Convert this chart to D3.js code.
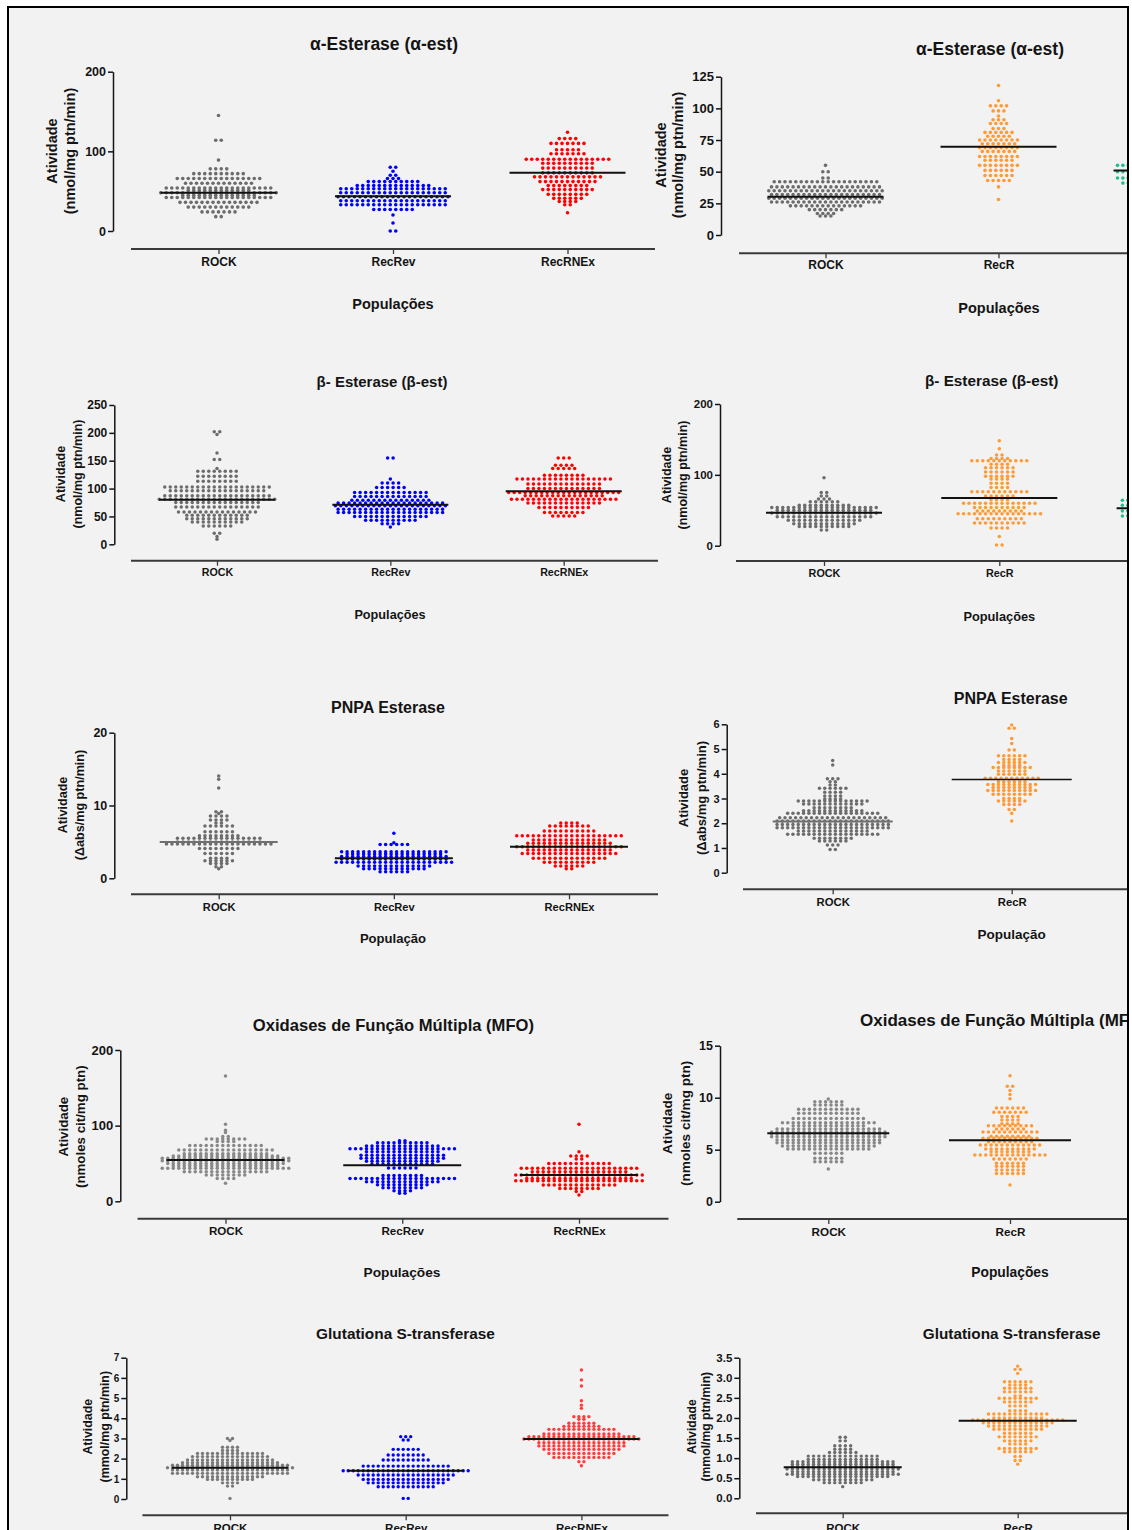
<!DOCTYPE html>
<html><head><meta charset="utf-8">
<script src="https://cdn.jsdelivr.net/npm/d3@7"></script>
<style>
body{margin:0;background:#fff}
svg{display:block}
text{font-family:"Liberation Sans",Arial,sans-serif;font-weight:bold;fill:#141414}
</style>
</head><body>
<svg id="chart" width="1132" height="1530"></svg>
<script>
// ---------------- DATA (rows of dots: [value, number of dots in the row]) ----------------
const catsLeft  = ["ROCK", "RecRev", "RecRNEx"];
const catsRight = ["ROCK", "RecR", ""];

const titles = ["α-Esterase (α-est)", "β- Esterase (β-est)", "PNPA Esterase", "Oxidases de Função Múltipla (MFO)", "Glutationa S-transferase"];
const yLabelUnits = ["(nmol/mg ptn/min)", "(nmol/mg ptn/min)", "(Δabs/mg ptn/min)", "(nmoles cit/mg ptn)", "(mmol/mg ptn/min)"];

// α-esterase, left
const alphaL_ROCK = [[145,1],[114,2],[89,1],[78,4],[72,10],[66,16],[60,13],[54,20],[51,12],[48,22],[45,14],[42,20],[36,15],[30,12],[24,7],[18,2]];
const alphaL_RecRev = [[0,2],[10,1],[20,1],[27,8],[33,20],[38,20],[43,21],[48,20],[53,20],[57,14],[62,10],[66,3],[70,2],[75,1],[80,2]];
const alphaL_RecRNEx = [[23,1],[33,2],[37,4],[41,6],[46,8],[52,10],[57,8],[62,11],[68,13],[73,10],[79,10],[85,10],[90,16],[97,7],[102,5],[110,7],[116,4],[124,1]];
const alphaL_medians = [48, 43.5, 73];
const alphaL_ticks = [0, 100, 200];
// α-esterase, right
const alphaR_ROCK = [[55,1],[50,2],[45,2],[42,20],[38,21],[35,22],[32,21],[29,22],[26,21],[23,14],[20,7],[17,4],[15,3]];
const alphaR_RecR = [[118,1],[106,1],[102,4],[98,3],[94,1],[91,3],[88,4],[84,3],[81,6],[78,5],[75,8],[72,7],[69,8],[66,7],[62,8],[59,6],[55,8],[51,6],[47,6],[43,5],[38,1],[28,1]];
const alphaR_Third = [[55,21],[50,21],[45,21],[41,19]];
const alphaR_medians = [30.3, 69.7, 51];
const alphaR_ticks = [0, 25, 50, 75, 100, 125];

// β-esterase, left
const betaL_ROCK = [[202,2],[197,1],[164,1],[152,2],[136,1],[131,8],[122,8],[113,8],[103,20],[96,18],[87,20],[81,22],[75,16],[67,16],[58,15],[52,12],[46,12],[40,10],[33,6],[20,2],[14,1],[9,1]];
const betaL_RecRev = [[155,2],[117,1],[110,4],[102,6],[93,14],[86,14],[79,15],[74,20],[69,21],[63,20],[57,20],[50,14],[43,10],[37,4],[31,1]];
const betaL_RecRNEx = [[155,3],[142,4],[136,5],[124,8],[117,18],[108,14],[100,14],[93,21],[87,15],[81,20],[74,14],[66,10],[57,8],[51,5]];
const betaL_medians = [80, 71, 95];
const betaL_ticks = [0, 50, 100, 150, 200, 250];
// β-esterase, right
const betaR_ROCK = [[96,1],[75,2],[70,2],[66,3],[62,6],[57,10],[54,20],[50,18],[46,20],[41,18],[36,14],[31,12],[27,10],[22,2]];
const betaR_RecR = [[148,1],[137,1],[128,2],[123,4],[120,11],[115,4],[110,6],[104,6],[98,6],[94,4],[88,4],[82,4],[76,11],[70,6],[65,4],[60,14],[54,10],[49,9],[45,16],[38,9],[32,10],[25,4],[13,1],[1,2]];
const betaR_Third = [[64,20],[57,20],[49,20],[42,20]];
const betaR_medians = [46.5, 67.5, 53];
const betaR_ticks = [0, 100, 200];

// PNPA esterase, left
const pnpaL_ROCK = [[14.05,1],[13.6,1],[12.4,1],[9.15,2],[8.9,1],[8.55,4],[8.0,4],[7.6,2],[7.2,6],[6.4,6],[5.85,8],[5.5,16],[5.0,16],[4.7,20],[4.1,8],[3.4,6],[2.75,4],[2.4,6],[2.05,4],[1.6,2],[1.3,1]];
const pnpaL_RecRev = [[6.2,1],[4.9,1],[4.65,6],[3.65,20],[3.35,18],[3.0,20],[2.65,20],[2.2,22],[1.7,14],[1.3,12],[0.9,6]];
const pnpaL_RecRNEx = [[7.6,4],[7.2,8],[6.5,10],[5.85,20],[5.25,14],[4.8,16],[4.35,20],[3.9,16],[3.4,18],[2.75,14],[2.2,10],[1.7,6],[1.3,2]];
const pnpaL_medians = [5.0, 2.75, 4.34];
const pnpaL_ticks = [0, 10, 20];
// PNPA esterase, right
const pnpaR_ROCK = [[4.54,1],[4.35,1],[3.8,3],[3.68,2],[3.55,2],[3.41,6],[3.25,4],[3.1,4],[2.98,4],[2.9,14],[2.78,12],[2.63,8],[2.5,12],[2.4,18],[2.22,21],[2.09,22],[1.95,22],[1.82,22],[1.69,14],[1.55,18],[1.39,8],[1.28,6],[1.12,3],[0.94,2]];
const pnpaR_RecR = [[5.97,1],[5.84,2],[5.43,1],[5.22,1],[4.96,2],[4.73,6],[4.58,4],[4.46,6],[4.33,4],[4.25,8],[4.11,6],[3.98,6],[3.82,11],[3.68,6],[3.57,10],[3.44,8],[3.32,10],[3.17,8],[3.0,4],[2.9,6],[2.76,4],[2.56,2],[2.4,1],[2.09,1]];
const pnpaR_medians = [2.07, 3.77];
const pnpaR_ticks = [0, 1, 2, 3, 4, 5, 6];

// MFO, left
const mfoL_ROCK = [[165.6,1],[101.8,1],[94,1],[91,1],[85.5,2],[82.4,8],[79,4],[73.6,14],[67.8,18],[63,16],[60,20],[56.8,24],[53.7,24],[50,22],[47,20],[43.6,24],[39,16],[34.8,8],[30,4],[23.8,1]];
const mfoL_RecRev = [[80,2],[77.5,10],[73,14],[69.5,20],[65.5,14],[61,16],[57,16],[53,14],[49,12],[44,6],[34,8],[30,20],[26,14],[22,10],[18,8],[14,4],[10.6,2]];
const mfoL_RecRNEx = [[102,1],[65.6,1],[60,4],[56,2],[50,12],[43.6,22],[39,18],[34.8,24],[30,20],[27,24],[21.6,14],[17,8],[12.8,2],[8.4,1]];
const mfoL_medians = [54.6, 47.5, 34.7];
const mfoL_ticks = [0, 100, 200];
// MFO, right
const mfoR_ROCK = [[9.87,1],[9.6,6],[9.3,6],[8.9,12],[8.5,12],[8.0,14],[7.6,18],[7.3,14],[7.0,20],[6.7,22],[6.5,22],[6.25,22],[5.93,20],[5.67,20],[5.35,18],[5.06,16],[4.65,6],[4.17,6],[3.85,6],[3.14,1]];
const mfoR_RecR = [[12.1,1],[11.1,2],[10.7,1],[10.3,1],[9.9,1],[9.0,6],[8.6,7],[8.2,4],[7.85,4],[7.5,4],[7.3,9],[7.0,6],[6.7,11],[6.3,8],[6.1,11],[5.77,9],[5.45,12],[5.06,10],[4.8,8],[4.5,14],[4.1,7],[3.7,6],[3.4,6],[3.05,6],[2.7,6],[1.6,1]];
const mfoR_medians = [6.58, 5.9];
const mfoR_ticks = [0, 5, 10, 15];

// GST, left
const gstL_ROCK = [[3.0,2],[2.9,1],[2.56,4],[2.4,4],[2.26,14],[2.1,16],[1.93,18],[1.8,20],[1.67,24],[1.55,26],[1.44,24],[1.27,24],[1.1,14],[0.97,10],[0.8,4],[0.64,2],[0.03,1]];
const gstL_RecRev = [[3.09,3],[2.92,2],[2.46,6],[2.18,8],[1.93,10],[1.63,18],[1.4,26],[1.19,20],[0.97,18],[0.8,16],[0.61,12],[0.03,2]];
const gstL_RecRNEx = [[6.39,1],[5.9,1],[5.6,1],[4.87,1],[4.65,1],[4.49,1],[4.08,4],[3.95,2],[3.75,6],[3.6,8],[3.45,14],[3.22,16],[3.09,22],[2.97,24],[2.79,18],[2.63,18],[2.46,16],[2.26,14],[2.06,12],[1.85,2],[1.65,1]];
const gstL_medians = [1.55, 1.40, 2.97];
const gstL_ticks = [0, 1, 2, 3, 4, 5, 6, 7];
// GST, right
const gstR_ROCK = [[1.52,2],[1.43,2],[1.31,4],[1.22,4],[1.14,6],[1.05,14],[0.97,14],[0.91,20],[0.85,20],[0.79,20],[0.73,22],[0.66,20],[0.6,22],[0.54,18],[0.46,12],[0.39,8],[0.29,1]];
const gstR_RecR = [[3.29,1],[3.21,2],[3.11,1],[2.9,6],[2.82,4],[2.74,6],[2.65,6],[2.55,2],[2.49,8],[2.4,6],[2.3,4],[2.18,4],[2.1,12],[2.0,10],[1.95,18],[1.88,14],[1.8,12],[1.72,10],[1.62,6],[1.53,8],[1.43,6],[1.35,4],[1.24,8],[1.16,6],[1.04,2],[0.94,2],[0.85,1]];
const gstR_medians = [0.77, 1.93];
const gstR_ticks = [0, 0.5, 1, 1.5, 2, 2.5, 3, 3.5];

// ---------------- STYLE / LAYOUT ----------------
const GRAY = "#6c6c6c", BLUE = "#0000ff", RED = "#ff0000", ORANGE = "#ff9a35", GREEN = "#1fbf86";
const colorsL = [GRAY, BLUE, RED], colorsR = [GRAY, ORANGE, GREEN];

const panels = [
  {cats:catsLeft, groups:[alphaL_ROCK,alphaL_RecRev,alphaL_RecRNEx], medians:alphaL_medians, ticks:alphaL_ticks, yMax:200,
   title:titles[0], unit:yLabelUnits[0], xTitle:"Populações", colors:colorsL,
   catRange:[218.5,567.5], xLine:[131,655], y0:231, yTop:71.7, yAxisX:113, xAxisY:249,
   titleX:384, titleY:44, xLabY:262, xTitleX:393, xTitleY:304, yLab:[52,70], yLabY:151,
   fs:{title:17.5, tick:12.5, xlab:12, xtitle:14.5, ylab:14.5}, dx:5.5, r:1.8, medHalf:58},
  {cats:catsRight, groups:[alphaR_ROCK,alphaR_RecR,alphaR_Third], medians:alphaR_medians, ticks:alphaR_ticks, yMax:125,
   title:titles[0], unit:yLabelUnits[0], xTitle:"Populações", colors:colorsR,
   catRange:[825.5,1171.5], xLine:[739,1140], y0:235, yTop:76.7, yAxisX:721, xAxisY:253.3,
   titleX:990, titleY:49, xLabY:265, xTitleX:999, xTitleY:307.7, yLab:[660.7,678], yLabY:155,
   fs:{title:17.5, tick:13, xlab:12, xtitle:14.5, ylab:14.5}, dx:5.4, r:1.8, medHalf:58},
  {cats:catsLeft, groups:[betaL_ROCK,betaL_RecRev,betaL_RecRNEx], medians:betaL_medians, ticks:betaL_ticks, yMax:250,
   title:titles[1], unit:yLabelUnits[1], xTitle:"Populações", colors:colorsL,
   catRange:[217,563.7], xLine:[131,658], y0:544.3, yTop:405, yAxisX:114.3, xAxisY:560.7,
   titleX:382, titleY:381.7, xLabY:572.7, xTitleX:390, xTitleY:615, yLab:[60.5,77.5], yLabY:474,
   fs:{title:15, tick:12, xlab:10.7, xtitle:12.7, ylab:12.5}, dx:5.5, r:1.75, medHalf:58},
  {cats:catsRight, groups:[betaR_ROCK,betaR_RecR,betaR_Third], medians:betaR_medians, ticks:betaR_ticks, yMax:200,
   title:titles[1], unit:yLabelUnits[1], xTitle:"Populações", colors:colorsR,
   catRange:[824,1174.6], xLine:[736,1140], y0:545.7, yTop:404, yAxisX:720, xAxisY:561,
   titleX:991.7, titleY:380.7, xLabY:573.3, xTitleX:999.3, xTitleY:616.7, yLab:[666.7,682.7], yLabY:475,
   fs:{title:15.3, tick:11.5, xlab:10.8, xtitle:12.8, ylab:12.5}, dx:5.5, r:1.75, medHalf:58},
  {cats:catsLeft, groups:[pnpaL_ROCK,pnpaL_RecRev,pnpaL_RecRNEx], medians:pnpaL_medians, ticks:pnpaL_ticks, yMax:20,
   title:titles[2], unit:yLabelUnits[2], xTitle:"População", colors:colorsL, medColors:["#707070","#111","#111"],
   catRange:[218.7,569], xLine:[131,658], y0:878.3, yTop:732.7, yAxisX:114.3, xAxisY:894.3,
   titleX:388, titleY:707.3, xLabY:907.3, xTitleX:393, xTitleY:938.3, yLab:[62.5,79.5], yLabY:805,
   fs:{title:16, tick:12.5, xlab:11.1, xtitle:13.1, ylab:12.6}, dx:5.5, r:1.75, medHalf:59},
  {cats:catsRight, groups:[pnpaR_ROCK,pnpaR_RecR], medians:pnpaR_medians, ticks:pnpaR_ticks, yMax:6,
   title:titles[2], unit:yLabelUnits[2], xTitle:"População", colors:colorsR, medColors:["#707070","#111"], medWidth:1.6,
   catRange:[832.7,1190.7], xLine:[743,1140], y0:872.7, yTop:724.3, yAxisX:726.7, xAxisY:889.3,
   titleX:1010.7, titleY:698.3, xLabY:902.3, xTitleX:1011.7, xTitleY:934.3, yLab:[683.3,701.7], yLabY:798,
   fs:{title:16, tick:11, xlab:11.3, xtitle:13.5, ylab:13}, dx:5.3, r:1.75, medHalf:60},
  {cats:catsLeft, groups:[mfoL_ROCK,mfoL_RecRev,mfoL_RecRNEx], medians:mfoL_medians, ticks:mfoL_ticks, yMax:200,
   title:titles[3], unit:yLabelUnits[3], xTitle:"Populações", colors:["#888888",BLUE,RED],
   catRange:[225.5,579], xLine:[137.6,668.5], y0:1201.3, yTop:1050, yAxisX:120.3, xAxisY:1218.7,
   titleX:393.4, titleY:1025, xLabY:1231, xTitleX:402, xTitleY:1272.3, yLab:[62.9,80], yLabY:1126.7,
   fs:{title:16.6, tick:13, xlab:11.6, xtitle:13.7, ylab:13.3}, dx:5.5, r:1.75, medHalf:59},
  {cats:catsRight, groups:[mfoR_ROCK,mfoR_RecR], medians:mfoR_medians, ticks:mfoR_ticks, yMax:15,
   title:titles[3], unit:yLabelUnits[3], xTitle:"Populações", colors:["#888888",ORANGE,GREEN], titleAnchor:"start",
   catRange:[828.3,1191.7], xLine:[737.3,1140], y0:1201.7, yTop:1045.7, yAxisX:720, xAxisY:1219,
   titleX:860, titleY:1020, xLabY:1232.3, xTitleX:1010, xTitleY:1272.3, yLab:[667.3,685], yLabY:1123.3,
   fs:{title:17, tick:12.5, xlab:11.7, xtitle:13.8, ylab:13.6}, dx:5.4, r:1.75, medHalf:61},
  {cats:catsLeft, groups:[gstL_ROCK,gstL_RecRev,gstL_RecRNEx], medians:gstL_medians, ticks:gstL_ticks, yMax:7,
   title:titles[4], unit:yLabelUnits[4], xTitle:null, colors:["#7a7a7a",BLUE,"#ff3b3b"],
   catRange:[230,581.4], xLine:[142.4,668.5], y0:1499, yTop:1357.7, yAxisX:126.3, xAxisY:1515.3,
   titleX:405.5, titleY:1333.3, xLabY:1528, yLab:[87.4,104.3], yLabY:1426.7,
   fs:{title:15.4, tick:10, xlab:11.5, ylab:12.4}, dx:5.0, r:1.7, medHalf:58},
  {cats:catsRight, groups:[gstR_ROCK,gstR_RecR], medians:gstR_medians, ticks:gstR_ticks, yMax:3.5, fmt:d3.format(".1f"),
   title:titles[4], unit:yLabelUnits[4], xTitle:null, colors:colorsR,
   catRange:[842.7,1192.7], xLine:[756,1140], y0:1498.3, yTop:1357.7, yAxisX:739.3, xAxisY:1513.3,
   titleX:1011.7, titleY:1334, xLabY:1528, yLab:[691.7,706], yLabY:1426.7,
   fs:{title:15.3, tick:11.5, xlab:11.5, ylab:12.2}, dx:5.3, r:1.7, medHalf:59}
];

// ---------------- DRAW ----------------
const W = 1132, H = 1530;
const svg = d3.select("#chart");
svg.append("rect").attr("width", W).attr("height", H).attr("fill", "#ffffff");
svg.append("rect").attr("x", 8).attr("y", 7).attr("width", 1120).attr("height", 1540).attr("fill", "#f2f2f2");
svg.append("defs").append("clipPath").attr("id", "clip")
  .append("rect").attr("x", 9).attr("y", 8).attr("width", 1118).attr("height", 1540);
const root = svg.append("g").attr("clip-path", "url(#clip)");

function styleText(sel, size) {
  sel.attr("font-family", '"Liberation Sans", Arial, sans-serif')
     .attr("font-weight", "bold").attr("font-size", size).attr("fill", "#141414");
}

function drawPanel(p) {
  const g = root.append("g");
  const x = d3.scalePoint().domain(p.cats).range(p.catRange);
  const y = d3.scaleLinear().domain([0, p.yMax]).range([p.y0, p.yTop]);

  // y axis
  const ya = g.append("g").attr("transform", `translate(${p.yAxisX},0)`)
    .call(d3.axisLeft(y).tickValues(p.ticks).tickSize(5).tickSizeOuter(0).tickPadding(2)
      .tickFormat(p.fmt || d3.format("d")));
  ya.attr("font-family", null).attr("font-size", null);
  ya.select(".domain").attr("stroke", "#141414").attr("stroke-width", 1.5);
  ya.selectAll(".tick line").attr("stroke", "#141414").attr("stroke-width", 1.5);
  styleText(ya.selectAll(".tick text"), p.fs.tick);

  // x axis
  g.append("line").attr("x1", p.xLine[0]).attr("x2", p.xLine[1])
    .attr("y1", p.xAxisY).attr("y2", p.xAxisY).attr("stroke", "#3a3a3a").attr("stroke-width", 2);
  const xa = g.append("g").attr("transform", `translate(0,${p.xAxisY})`)
    .call(d3.axisBottom(x).tickSize(5).tickSizeOuter(0));
  xa.attr("font-family", null).attr("font-size", null);
  xa.select(".domain").remove();
  xa.selectAll(".tick line").attr("stroke", "#3a3a3a").attr("stroke-width", 1.3);
  const xt = xa.selectAll(".tick text").attr("y", p.xLabY - p.xAxisY).attr("dy", "0.35em");
  styleText(xt, p.fs.xlab);

  // dots
  p.groups.forEach((rows, gi) => {
    const cx = x(p.cats[gi]);
    const pts = rows.flatMap(([v, n]) => d3.range(n).map(k => ({v, off: k - (n - 1) / 2})));
    g.append("g").selectAll("circle").data(pts).join("circle")
      .attr("cx", d => cx + d.off * p.dx).attr("cy", d => y(d.v))
      .attr("r", p.r).attr("fill", p.colors[gi]);
  });

  // median lines
  g.append("g").selectAll("line").data(p.medians).join("line")
    .attr("x1", (d, i) => x(p.cats[i]) - p.medHalf).attr("x2", (d, i) => x(p.cats[i]) + p.medHalf)
    .attr("y1", d => y(d)).attr("y2", d => y(d))
    .attr("stroke", (d, i) => p.medColors ? p.medColors[i] : "#111")
    .attr("stroke-width", (d, i) => (p.medWidth && i > 0) ? p.medWidth : 2);

  // title
  styleText(g.append("text").attr("x", p.titleX).attr("y", p.titleY).attr("dy", "0.35em")
    .attr("text-anchor", p.titleAnchor || "middle").text(p.title), p.fs.title);

  // x title
  if (p.xTitle) {
    styleText(g.append("text").attr("x", p.xTitleX).attr("y", p.xTitleY).attr("dy", "0.35em")
      .attr("text-anchor", "middle").text(p.xTitle), p.fs.xtitle);
  }

  // y label (two lines, rotated)
  [["Atividade", p.yLab[0]], [p.unit, p.yLab[1]]].forEach(([t, lx]) => {
    styleText(g.append("text").attr("transform", `translate(${lx},${p.yLabY}) rotate(-90)`)
      .attr("text-anchor", "middle").attr("dy", "0.35em").text(t), p.fs.ylab);
  });
}

panels.forEach(drawPanel);

svg.append("rect").attr("x", 8).attr("y", 7).attr("width", 1120).attr("height", 1540)
  .attr("fill", "none").attr("stroke", "#000").attr("stroke-width", 2);
</script>
</body></html>
